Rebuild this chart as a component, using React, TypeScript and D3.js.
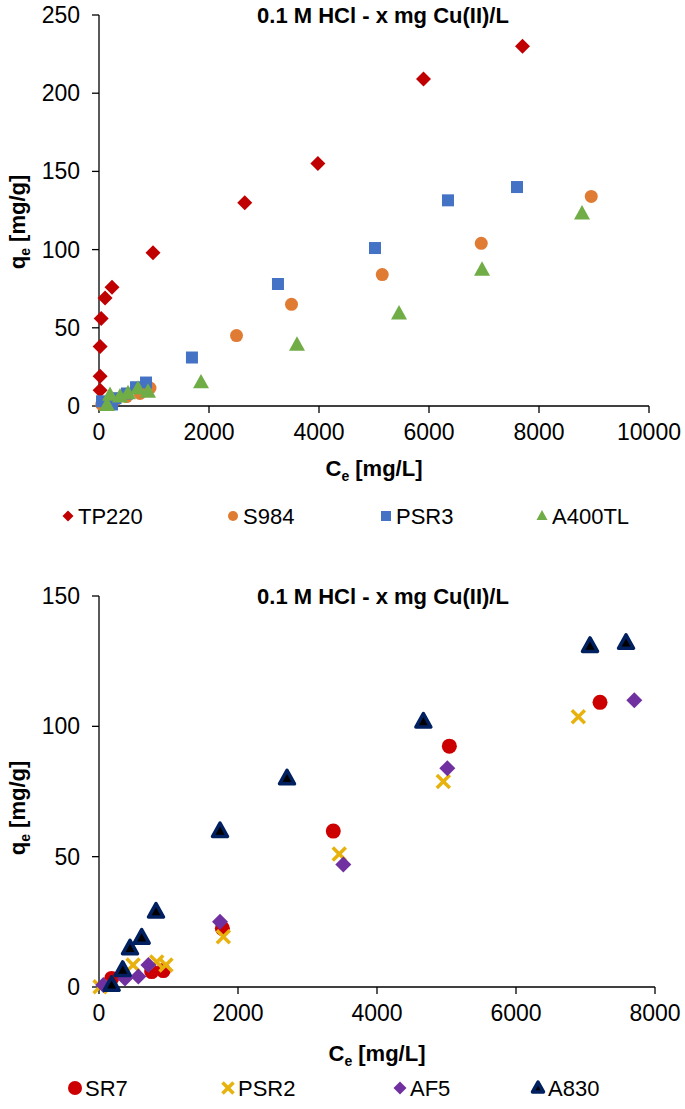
import React from "react";
import * as d3 from "d3";

// ---------- Data: top chart ----------
const tp220X = [7700, 5900, 3980, 2650, 982, 236, 110, 40, 20, 20, 20];
const tp220Y = [230, 209, 155, 130, 98, 76, 69, 56, 38, 19, 10];
const s984X = [8950, 6950, 5150, 3500, 2500, 927, 745, 500, 300, 150, 50];
const s984Y = [134, 104, 84, 65, 45, 11.5, 8, 6, 4, 2, 1];
const psr3X = [7600, 6345, 5018, 3254, 1690, 855, 673, 509, 300, 236, 55];
const psr3Y = [140, 131.5, 101, 78, 31, 15, 12, 8, 5, 1, 3];
const a400X = [8782, 6964, 5455, 3600, 1855, 891, 709, 527, 382, 200, 145];
const a400Y = [123, 87, 59, 39, 15, 9, 11, 8, 6, 7, 0.5];

// ---------- Data: bottom chart ----------
const sr7X = [7209, 5041, 3371, 1775, 925, 758, 182];
const sr7Y = [109.2, 92.4, 59.8, 22.5, 6.3, 5.9, 3.3];
const psr2X = [6897, 4954, 3457, 1789, 963, 830, 490, 15];
const psr2Y = [103.7, 78.8, 51, 19.3, 8.4, 9.6, 8.4, 0.1];
const af5X = [7702, 5012, 3515, 1741, 710, 566, 374, 62];
const af5Y = [110, 83.9, 47, 25, 8.4, 4, 3.3, 0.8];
const a830X = [7583, 7065, 4667, 2705, 1741, 820, 614, 446, 341, 182];
const a830Y = [132, 130.8, 101.8, 80, 59.8, 28.9, 18.9, 14.8, 6.5, 0.8];

const topXTicks = [0, 2000, 4000, 6000, 8000, 10000];
const topYTicks = [0, 50, 100, 150, 200, 250];
const botXTicks = [0, 2000, 4000, 6000, 8000];
const botYTicks = [0, 50, 100, 150];

const titleText = "0.1 M HCl - x mg Cu(II)/L";
const topLegend = ["TP220", "S984", "PSR3", "A400TL"];
const botLegend = ["SR7", "PSR2", "AF5", "A830"];

const FONT = "'Liberation Sans', Arial, sans-serif";

const C = {
  tp220: "#C00000",
  s984: "#E07B34",
  psr3: "#4472C4",
  a400: "#70AD47",
  sr7: "#CC0000",
  psr2: "#E8B20E",
  af5: "#7030A0",
  a830: "#002060",
};

type Kind = "diamond" | "circle" | "square" | "triangle" | "x" | "navytri";

function Marker({ kind, x, y, s, color }: { kind: Kind; x: number; y: number; s: number; color: string }) {
  if (kind === "diamond") {
    const h = s / 2;
    return <path d={`M${x},${y - h}L${x + h},${y}L${x},${y + h}L${x - h},${y}Z`} fill={color} />;
  }
  if (kind === "circle") return <circle cx={x} cy={y} r={s / 2} fill={color} />;
  if (kind === "square") return <rect x={x - s / 2} y={y - s / 2} width={s} height={s} fill={color} />;
  if (kind === "triangle") {
    const h = s * 0.9;
    return <path d={`M${x},${y - h * 0.6}L${x + s / 2},${y + h * 0.4}L${x - s / 2},${y + h * 0.4}Z`} fill={color} />;
  }
  if (kind === "navytri") {
    const h = s * 0.9;
    return (
      <path
        d={`M${x},${y - h * 0.6}L${x + s / 2},${y + h * 0.4}L${x - s / 2},${y + h * 0.4}Z`}
        fill="#000"
        stroke={color}
        strokeWidth={3.5}
        strokeLinejoin="round"
      />
    );
  }
  const h = s / 2;
  return (
    <g stroke={color} strokeWidth={3.5}>
      <line x1={x - h} y1={y - h} x2={x + h} y2={y + h} />
      <line x1={x - h} y1={y + h} x2={x + h} y2={y - h} />
    </g>
  );
}

type Series = { name: string; xs: number[]; ys: number[]; kind: Kind; color: string; size: number; lsize: number };

function Chart({
  series,
  xDomain,
  xRange,
  yDomain,
  yRange,
  xTicks,
  yTicks,
  titleY,
  titleX,
  yTitleCenter,
  xLabelY,
  xTitleY,
  legendY,
  legendPos,
}: {
  series: Series[];
  xDomain: [number, number];
  xRange: [number, number];
  yDomain: [number, number];
  yRange: [number, number];
  xTicks: number[];
  yTicks: number[];
  titleY: number;
  titleX: number;
  yTitleCenter: number;
  xLabelY: number;
  xTitleY: number;
  legendY: number;
  legendPos: number[];
}) {
  const x = d3.scaleLinear().domain(xDomain).range(xRange);
  const y = d3.scaleLinear().domain(yDomain).range(yRange);
  const x0 = xRange[0];
  const y0 = yRange[0];
  const xMid = (xRange[0] + xRange[1]) / 2;
  return (
    <g fontFamily={FONT}>
      <text x={titleX} y={titleY} textAnchor="middle" fontWeight="bold" fontSize={22} fill="#000">
        {titleText}
      </text>
      {/* axes */}
      <line x1={x0} y1={yRange[1]} x2={x0} y2={y0} stroke="#000" strokeWidth={1.3} />
      <line x1={x0} y1={y0} x2={xRange[1]} y2={y0} stroke="#000" strokeWidth={1.3} />
      {yTicks.map((t) => (
        <g key={"y" + t}>
          <line x1={x0 - 7} x2={x0} y1={y(t)} y2={y(t)} stroke="#000" strokeWidth={1.3} />
          <text x={x0 - 19} y={y(t) + 8} textAnchor="end" fontSize={23} fill="#000">
            {t}
          </text>
        </g>
      ))}
      {xTicks.map((t) => (
        <g key={"x" + t}>
          <line x1={x(t)} x2={x(t)} y1={y0} y2={y0 + 7} stroke="#000" strokeWidth={1.3} />
          <text x={x(t)} y={xLabelY} textAnchor="middle" fontSize={23} fill="#000">
            {t}
          </text>
        </g>
      ))}
      {/* axis titles */}
      <text x={xMid} y={xTitleY} textAnchor="middle" fontWeight="bold" fontSize={22} fill="#000">
        C<tspan fontSize={14} dy={5}>e</tspan>
        <tspan dy={-5}> [mg/L]</tspan>
      </text>
      <text
        transform={`translate(25,${yTitleCenter}) rotate(-90)`}
        textAnchor="middle"
        fontWeight="bold"
        fontSize={22}
        fill="#000"
      >
        q<tspan fontSize={14} dy={5}>e</tspan>
        <tspan dy={-5}> [mg/g]</tspan>
      </text>
      {/* points */}
      {series.map((s) => (
        <g key={s.name}>
          {s.xs.map((v, i) => (
            <Marker key={i} kind={s.kind} x={x(v)} y={y(s.ys[i])} s={s.size} color={s.color} />
          ))}
        </g>
      ))}
      {/* legend */}
      {series.map((s, i) => (
        <g key={"l" + s.name}>
          <Marker kind={s.kind} x={legendPos[i]} y={legendY} s={s.lsize} color={s.color} />
          <text x={legendPos[i] + 10} y={legendY + 8} fontSize={22} fill="#000">
            {s.name}
          </text>
        </g>
      ))}
    </g>
  );
}

export default function App() {
  const topSeries: Series[] = [
    { name: topLegend[0], xs: tp220X, ys: tp220Y, kind: "diamond", color: C.tp220, size: 15, lsize: 11 },
    { name: topLegend[1], xs: s984X, ys: s984Y, kind: "circle", color: C.s984, size: 13, lsize: 10 },
    { name: topLegend[2], xs: psr3X, ys: psr3Y, kind: "square", color: C.psr3, size: 12, lsize: 10 },
    { name: topLegend[3], xs: a400X, ys: a400Y, kind: "triangle", color: C.a400, size: 16, lsize: 11 },
  ];
  const botSeries: Series[] = [
    { name: botLegend[0], xs: sr7X, ys: sr7Y, kind: "circle", color: C.sr7, size: 15, lsize: 14 },
    { name: botLegend[1], xs: psr2X, ys: psr2Y, kind: "x", color: C.psr2, size: 13, lsize: 11 },
    { name: botLegend[2], xs: af5X, ys: af5Y, kind: "diamond", color: C.af5, size: 16, lsize: 13 },
    { name: botLegend[3], xs: a830X, ys: a830Y, kind: "navytri", color: C.a830, size: 15, lsize: 11 },
  ];
  return (
    <svg
      width={685}
      height={1109}
      style={{ position: "absolute", left: 0, top: 0, background: "#fff" }}
    >
      <rect width={685} height={1109} fill="#fff" />
      <Chart
        series={topSeries}
        xDomain={[0, 10000]}
        xRange={[99, 649]}
        yDomain={[0, 250]}
        yRange={[406, 15]}
        xTicks={topXTicks}
        yTicks={topYTicks}
        titleX={383}
        titleY={23}
        yTitleCenter={222}
        xLabelY={440}
        xTitleY={476}
        legendY={516}
        legendPos={[68, 233, 386, 542]}
      />
      <Chart
        series={botSeries}
        xDomain={[0, 8000]}
        xRange={[99, 655]}
        yDomain={[0, 150]}
        yRange={[987, 596]}
        xTicks={botXTicks}
        yTicks={botYTicks}
        titleX={383}
        titleY={604}
        yTitleCenter={808}
        xLabelY={1021}
        xTitleY={1061}
        legendY={1088}
        legendPos={[75, 228, 400, 538]}
      />
    </svg>
  );
}
